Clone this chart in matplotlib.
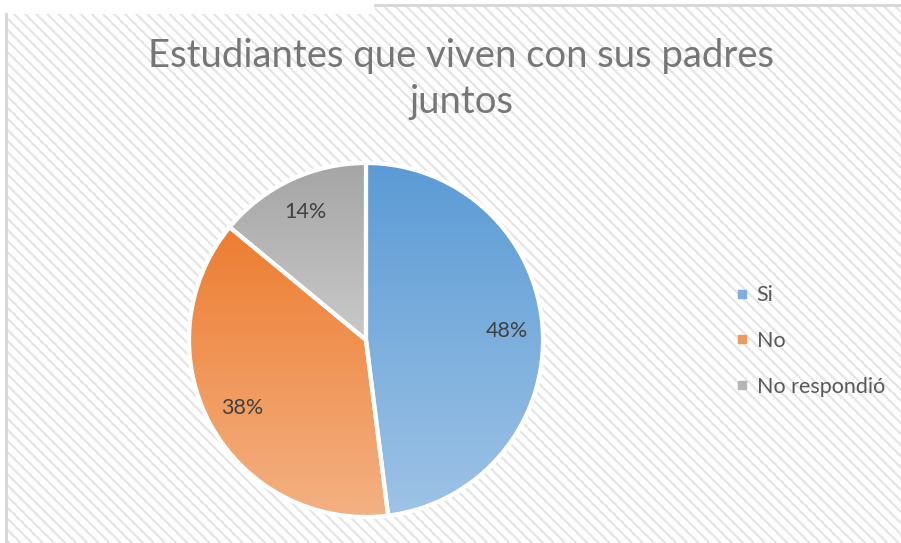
import numpy as np
import matplotlib
matplotlib.use("Agg")
import matplotlib.pyplot as plt
from matplotlib.patches import Polygon, Wedge
from matplotlib.colors import LinearSegmentedColormap

plt.rcParams['font.family'] = ['Lato', 'DejaVu Sans']
plt.rcParams['hatch.linewidth'] = 1.6

categories = ["Si", "No", "No respondió"]
values = [48, 38, 14]
# gradient (top, bottom) per slice
top_colors = ["#5B9BD5", "#ED7D31", "#A5A5A5"]
bottom_colors = ["#9EC3E6", "#F4B183", "#C9C9C9"]

W, H = 901, 543
fig = plt.figure(figsize=(W / 100, H / 100), dpi=100)
ax = fig.add_axes([0, 0, 1, 1])
ax.set_xlim(0, W)
ax.set_ylim(0, H)
ax.axis("off")

# hatched chart background and frame
bg = Polygon([(7, H - 14), (375, H - 14), (375, H - 7), (W, H - 7), (W, 0), (7, 0)],
             closed=True, facecolor="white", edgecolor="#E5E5E5", lw=0, hatch="\\\\\\", zorder=0)
ax.add_patch(bg)
ax.plot([5.5, 5.5], [0, H - 14], color="#D6D6D6", lw=2, zorder=1)
ax.plot([375, W], [H - 5, H - 5], color="#D6D6D6", lw=2, zorder=1)

cx, cy, r = 366, H - 340, 177
wedges, texts, autotexts = ax.pie(values, center=(cx, cy), radius=r, startangle=90,
                                  counterclock=False, autopct="%1.0f%%", pctdistance=0.8,
                                  colors=top_colors, frame=True,
                                  textprops=dict(fontsize=15.5, color="#404040"))
ax.set_xlim(0, W)
ax.set_ylim(0, H)
ax.set_aspect("equal")
ax.axis("off")

for w, c0, c1 in zip(wedges, top_colors, bottom_colors):
    ext = w.get_path().get_extents()
    cmap = LinearSegmentedColormap.from_list("g", [c0, c1])
    grad = np.linspace(0, 1, 256).reshape(-1, 1)
    im = ax.imshow(grad, cmap=cmap, aspect="auto", origin="upper",
                   extent=[ext.x0, ext.x1, ext.y0, ext.y1], zorder=2)
    im.set_clip_path(w)
    edge = Wedge(w.center, w.r, w.theta1, w.theta2, facecolor="none",
                 edgecolor="white", lw=3, zorder=3)
    ax.add_patch(edge)
for t in autotexts:
    t.set_zorder(4)

ax.set_xlim(0, W)
ax.set_ylim(0, H)

fig.text(461, H - 56, "Estudiantes que viven con sus padres", transform=None,
         ha="center", va="center", fontsize=27.5, color="#767676")
fig.text(461, H - 102, "juntos", transform=None,
         ha="center", va="center", fontsize=27.5, color="#767676")

handles = [plt.Line2D([], [], marker="s", ls="none", markersize=6, color=c)
           for c in ["#7EAEDE", "#F09A5E", "#B5B5B5"]]
fig.legend(handles, categories, loc="center left", bbox_to_anchor=(718 / W, 1 - 341 / H),
           frameon=False, fontsize=15.5, labelcolor="#595959", labelspacing=1.2,
           handlelength=0.45, handletextpad=0.45)

fig.savefig("out.png", dpi=100)
